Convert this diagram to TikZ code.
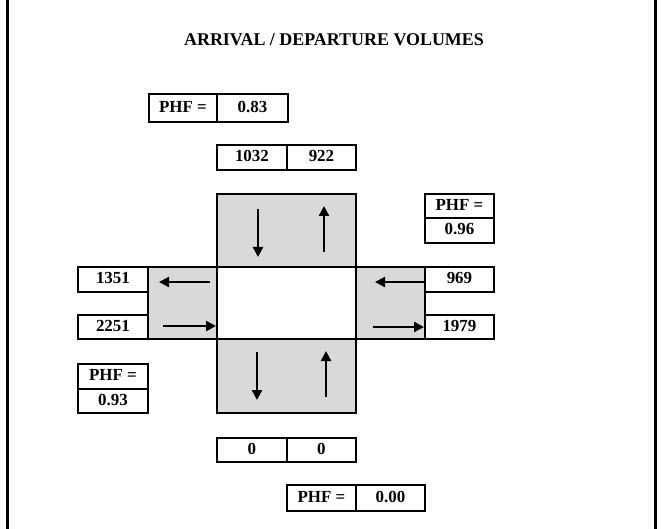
\documentclass[tikz,border=0pt]{standalone}
\usepackage{fontspec}
\setmainfont{Liberation Serif}
\usetikzlibrary{arrows.meta}
\definecolor{lanegray}{RGB}{217,217,217}
\tikzset{
  cell/.style={draw, line width=1.9bp, inner sep=0pt, anchor=north west, text depth=2.5bp,
    font=\bfseries\fontsize{17}{18}\selectfont},
  lane/.style={draw, line width=1.9bp, fill=lanegray, inner sep=0pt, anchor=north west},
  flow/.style={line width=2.4bp, -{Triangle[length=10bp,width=10bp]}},
  frame/.style={line width=3bp}
}
\begin{document}
\begin{tikzpicture}[x=1bp,y=-1bp]
\useasboundingbox (0,0) rectangle (662,529);
% page frame
\coordinate (fl1) at (7.5,0); \coordinate (fl2) at (7.5,529);
\coordinate (fr1) at (655,0); \coordinate (fr2) at (655,529);
\draw[frame] (fl1) -- (fl2);
\draw[frame] (fr1) -- (fr2);
% title
\node[font=\bfseries\fontsize{18}{20}\selectfont] (title) at (334,40) {ARRIVAL / DEPARTURE VOLUMES};
% lanes
\node[lane, minimum width=139bp, minimum height=73bp] (north) at (216,193) {};
\node[lane, minimum width=69bp, minimum height=72bp] (west) at (147,266) {};
\node[lane, minimum width=69bp, minimum height=72bp] (east) at (355,266) {};
\node[lane, minimum width=139bp, minimum height=74bp] (south) at (216,338) {};
\node[draw, line width=1.9bp, fill=white, inner sep=0pt, anchor=north west, minimum width=139bp, minimum height=72bp] (center) at (216,266) {};
% top PHF
\node[cell, minimum width=68bp, minimum height=28bp] (phfNl) at (148,93) {PHF =};
\node[cell, minimum width=71bp, minimum height=28bp] (phfNv) at (216,93) {0.83};
% north volumes
\node[cell, minimum width=70bp, minimum height=25bp] (nIn) at (216,144) {1032};
\node[cell, minimum width=69bp, minimum height=25bp] (nOut) at (286,144) {922};
% east PHF
\node[cell, minimum width=69bp, minimum height=24bp] (phfEl) at (424,193) {PHF =};
\node[cell, minimum width=69bp, minimum height=25bp] (phfEv) at (424,217) {0.96};
% west volumes
\node[cell, minimum width=70bp, minimum height=25bp] (wOut) at (77,266) {1351};
\node[cell, minimum width=70bp, minimum height=24bp] (wIn) at (77,314) {2251};
% east volumes
\node[cell, minimum width=69bp, minimum height=25bp] (eIn) at (424,266) {969};
\node[cell, minimum width=69bp, minimum height=24bp] (eOut) at (424,314) {1979};
% west PHF
\node[cell, minimum width=70bp, minimum height=25bp] (phfWl) at (77,363) {PHF =};
\node[cell, minimum width=70bp, minimum height=24bp] (phfWv) at (77,388) {0.93};
% south volumes
\node[cell, minimum width=70bp, minimum height=24bp] (sOut) at (216,437) {0};
\node[cell, minimum width=69bp, minimum height=24bp] (sIn) at (286,437) {0};
% south PHF
\node[cell, minimum width=69bp, minimum height=26bp] (phfSl) at (286,484) {PHF =};
\node[cell, minimum width=69bp, minimum height=26bp] (phfSv) at (355,484) {0.00};
% arrow end points
\coordinate (nd1) at (258,209); \coordinate (nd2) at (258,257);
\coordinate (nu1) at (324,252); \coordinate (nu2) at (324,206);
\coordinate (wl1) at (210,282); \coordinate (wl2) at (159,282);
\coordinate (wr1) at (163,326); \coordinate (wr2) at (216,326);
\coordinate (el1) at (424,282); \coordinate (el2) at (375,282);
\coordinate (er1) at (373,327); \coordinate (er2) at (424,327);
\coordinate (sd1) at (257,352); \coordinate (sd2) at (257,400);
\coordinate (su1) at (326,397); \coordinate (su2) at (326,351);
\draw[flow] (nd1) -- (nd2);
\draw[flow] (nu1) -- (nu2);
\draw[flow] (wl1) -- (wl2);
\draw[flow] (wr1) -- (wr2);
\draw[flow] (el1) -- (el2);
\draw[flow] (er1) -- (er2);
\draw[flow] (sd1) -- (sd2);
\draw[flow] (su1) -- (su2);
\end{tikzpicture}
\end{document}
